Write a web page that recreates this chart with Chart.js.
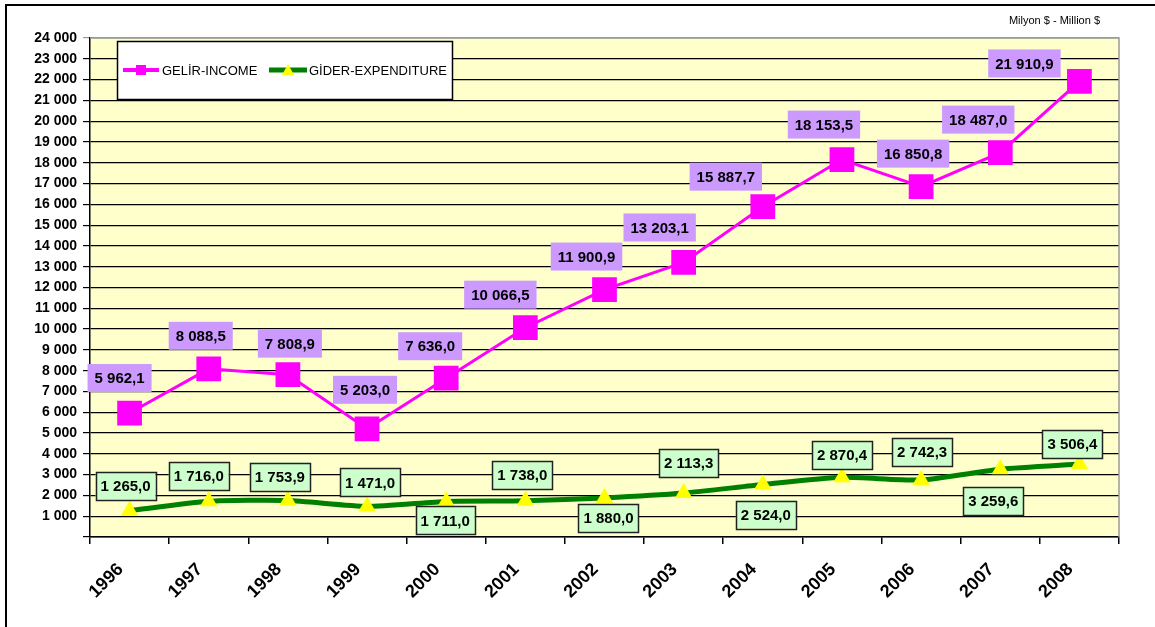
<!DOCTYPE html>
<html>
<head>
<meta charset="utf-8">
<script src="https://cdn.jsdelivr.net/npm/chart.js@4.4.1/dist/chart.umd.min.js"></script>
<style>
  html, body { margin: 0; padding: 0; background: #ffffff; }
  #wrap { position: relative; width: 1155px; height: 627px; overflow: hidden; }
  canvas { position: absolute; left: 0; top: 0; }
</style>
</head>
<body>
<div id="wrap"><canvas id="c" width="1155" height="627"></canvas></div>
<script>
// ---- data ----
const years = ['1996','1997','1998','1999','2000','2001','2002','2003','2004','2005','2006','2007','2008'];
const income = [5962.1, 8088.5, 7808.9, 5203.0, 7636.0, 10066.5, 11900.9, 13203.1, 15887.7, 18153.5, 16850.8, 18487.0, 21910.9];
const expenditure = [1265.0, 1716.0, 1753.9, 1471.0, 1711.0, 1738.0, 1880.0, 2113.3, 2524.0, 2870.4, 2742.3, 3259.6, 3506.4];
const seriesNames = ['GELİR-INCOME', 'GİDER-EXPENDITURE'];
const unitLabel = 'Milyon $ - Million $';
const yMin = 0, yMax = 24000, yStep = 1000;

// ---- label placement (styling, relative to each point) ----
const incomeLabelOffsets = [[-10,-35],[-8,-33],[2,-31],[-2,-39],[-16,-32],[-25,-33],[-18,-33],[-24,-35],[-37,-30],[-18,-35],[-8,-33],[-22,-33],[-55,-18]];
const expLabelOffsets = [[-4,-25],[-10,-25],[-8,-24],[3,-24],[-1,19],[-3,-26],[4,20],[5,-30],[3,30],[0,-22],[1,-28],[-7,32],[-7,-20]];

function fmtThousands(n) {
  const s = String(Math.round(n));
  return s.replace(/\B(?=(\d{3})+(?!\d))/g, ' ');
}
function fmtValue(v) {
  const parts = v.toFixed(1).split('.');
  return fmtThousands(parseInt(parts[0], 10)) + ',' + parts[1];
}

const FONT = '"Liberation Sans", Arial, sans-serif';

const framePlugin = {
  id: 'frame',
  beforeDraw(chart) {
    const ctx = chart.ctx, a = chart.chartArea;
    ctx.save();
    ctx.fillStyle = '#FFFFCC';
    ctx.fillRect(a.left, a.top, a.right - a.left, a.bottom - a.top);
    ctx.strokeStyle = '#000';
    ctx.lineWidth = 2;
    ctx.beginPath();
    ctx.moveTo(6, 640);
    ctx.lineTo(6, 5);
    ctx.lineTo(1170, 5);
    ctx.stroke();
    ctx.fillStyle = '#000';
    ctx.font = '11px ' + FONT;
    ctx.textAlign = 'right';
    ctx.textBaseline = 'middle';
    ctx.fillText(unitLabel, 1100, 21);
    ctx.restore();
  },
  afterDraw(chart) {
    const ctx = chart.ctx, a = chart.chartArea;
    ctx.save();
    ctx.strokeStyle = '#9a9a9a';
    ctx.lineWidth = 1.5;
    ctx.beginPath();
    ctx.moveTo(a.left, a.top);
    ctx.lineTo(a.right, a.top);
    ctx.lineTo(a.right, a.bottom);
    ctx.stroke();
    ctx.restore();
  }
};

const labelPlugin = {
  id: 'valueLabels',
  afterDatasetsDraw(chart) {
    const ctx = chart.ctx;
    const cfgs = [
      { ds: 0, offs: incomeLabelOffsets, fill: '#CC99FF', border: null, padX: 7 },
      { ds: 1, offs: expLabelOffsets, fill: '#CCFFCC', border: '#222', padX: 5 }
    ];
    ctx.save();
    ctx.font = 'bold 15px ' + FONT;
    ctx.textAlign = 'center';
    ctx.textBaseline = 'middle';
    cfgs.forEach(c => {
      const meta = chart.getDatasetMeta(c.ds);
      const vals = chart.data.datasets[c.ds].data;
      meta.data.forEach((pt, i) => {
        const txt = fmtValue(vals[i]);
        const w = ctx.measureText(txt).width + c.padX * 2;
        const h = 28;
        const cx = pt.x + c.offs[i][0];
        const cy = pt.y + c.offs[i][1];
        ctx.fillStyle = c.fill;
        ctx.fillRect(cx - w / 2, cy - h / 2, w, h);
        if (c.border) {
          ctx.strokeStyle = c.border;
          ctx.lineWidth = 1.5;
          ctx.strokeRect(Math.round(cx - w / 2) + 0.5, Math.round(cy - h / 2) + 0.5, Math.round(w), h);
        }
        ctx.fillStyle = '#000';
        ctx.fillText(txt, cx, cy + 1);
      });
    });
    ctx.restore();
  }
};

const legendPlugin = {
  id: 'boxLegend',
  afterDraw(chart) {
    const ctx = chart.ctx;
    ctx.save();
    ctx.fillStyle = '#fff';
    ctx.fillRect(117, 41, 335, 58);
    ctx.strokeStyle = '#000';
    ctx.lineWidth = 1.5;
    ctx.strokeRect(117.5, 41.5, 335, 58);
    const y = 70;
    ctx.strokeStyle = '#FF00FF';
    ctx.lineWidth = 4;
    ctx.beginPath(); ctx.moveTo(123, y); ctx.lineTo(159, y); ctx.stroke();
    ctx.fillStyle = '#FF00FF';
    ctx.fillRect(136, y - 5, 10, 10);
    ctx.strokeStyle = '#008000';
    ctx.lineWidth = 5;
    ctx.beginPath(); ctx.moveTo(269, y); ctx.lineTo(307, y); ctx.stroke();
    ctx.fillStyle = '#FFFF00';
    ctx.beginPath(); ctx.moveTo(288, y - 6); ctx.lineTo(294, y + 5); ctx.lineTo(282, y + 5); ctx.closePath(); ctx.fill();
    ctx.fillStyle = '#000';
    ctx.font = '13px ' + FONT;
    ctx.textAlign = 'left';
    ctx.textBaseline = 'middle';
    ctx.fillText(seriesNames[0], 162, y + 1);
    ctx.fillText(seriesNames[1], 309, y + 1);
    ctx.restore();
  }
};

new Chart(document.getElementById('c'), {
  type: 'line',
  data: {
    labels: years,
    datasets: [
      {
        label: seriesNames[0],
        data: income,
        borderColor: '#FF00FF',
        borderWidth: 3,
        pointStyle: 'rect',
        pointRadius: 17.5,
        pointBackgroundColor: '#FF00FF',
        pointBorderWidth: 0,
        tension: 0
      },
      {
        label: seriesNames[1],
        data: expenditure,
        borderColor: '#008000',
        borderWidth: 5,
        pointStyle: 'triangle',
        pointRadius: 10,
        pointBackgroundColor: '#FFFF00',
        pointBorderColor: '#FFFF00',
        pointBorderWidth: 0,
        tension: 0.2
      }
    ]
  },
  options: {
    responsive: false,
    animation: false,
    layout: { padding: { left: 0, right: 36, top: 38, bottom: 0 } },
    plugins: { legend: { display: false }, tooltip: { enabled: false }, title: { display: false } },
    scales: {
      x: {
        type: 'category',
        offset: true,
        grid: { offset: true, drawOnChartArea: false, drawTicks: true, tickLength: 7, color: '#000', lineWidth: 1.5 },
        border: { display: true, color: '#000', width: 1.5 },
        ticks: {
          minRotation: 45, maxRotation: 45, autoSkip: false,
          font: { family: FONT, size: 18, weight: 'bold' },
          color: '#000', padding: 15, labelOffset: -9
        },
        afterFit(s) { s.height = 90; }
      },
      y: {
        min: yMin, max: yMax,
        ticks: {
          stepSize: yStep,
          font: { family: FONT, size: 14, weight: 'bold' },
          color: '#000', padding: 6,
          callback: (v) => v === 0 ? '' : fmtThousands(v)
        },
        grid: {
          color: (c) => (c.tick && c.tick.value === yMax) ? '#9a9a9a' : '#000',
          lineWidth: 1.2, tickLength: 7, drawTicks: true
        },
        border: { display: true, color: '#000', width: 1.5 },
        afterFit(s) { s.width = 90; }
      }
    }
  },
  plugins: [framePlugin, labelPlugin, legendPlugin]
});
</script>
</body>
</html>
